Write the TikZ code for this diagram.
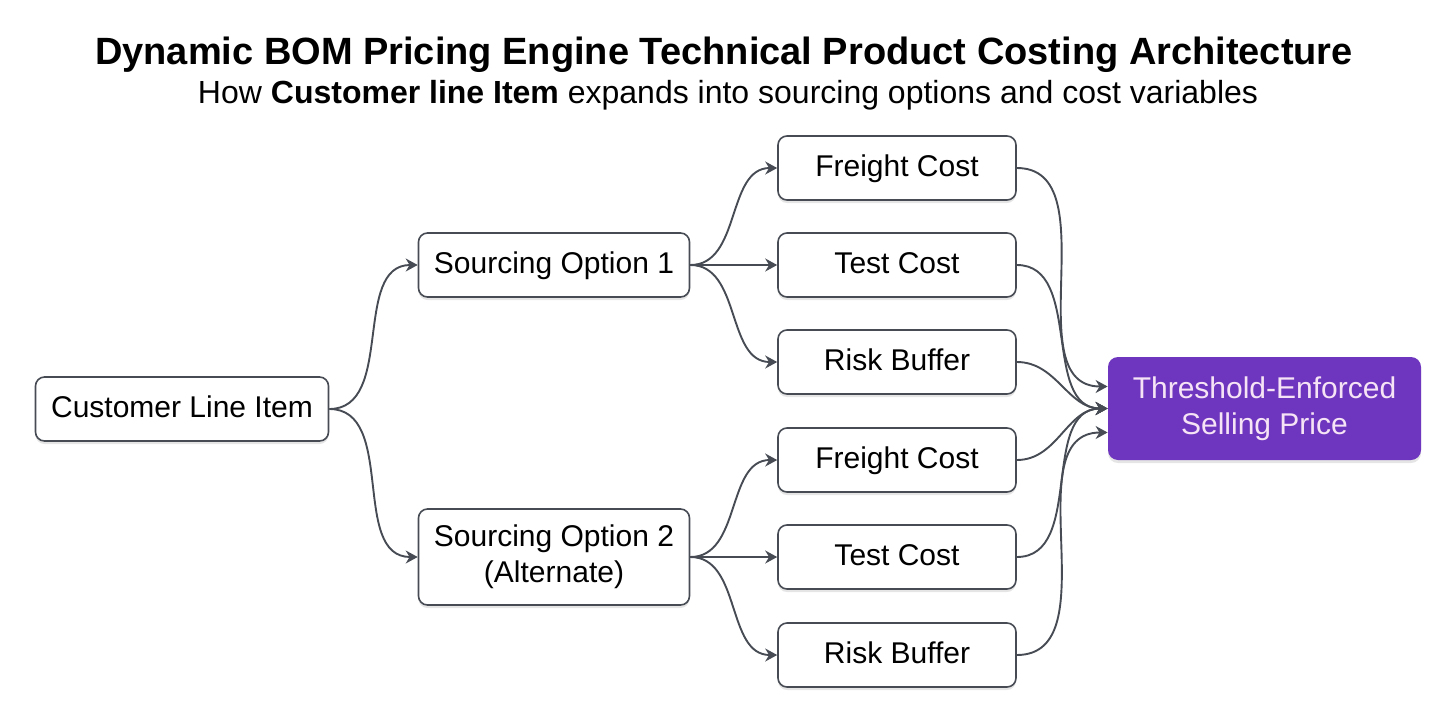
\documentclass[tikz,border=0pt]{standalone}
\usepackage{fontspec}
\setmainfont{Liberation Sans}
\usetikzlibrary{positioning, arrows.meta, shadows}

\definecolor{edgegray}{HTML}{474C54}
\definecolor{pricepurple}{HTML}{6E36BE}
\definecolor{pricetext}{HTML}{F6E4F6}

\begin{document}
\begin{tikzpicture}[
  x=0.5pt, y=0.5pt,
  font=\fontsize{15}{18}\selectfont,
  soft/.style={drop shadow={shadow xshift=0pt, shadow yshift=-1.5pt, opacity=0.10, fill=black}},
  item/.style={draw=edgegray, line width=0.8pt, rounded corners=4.5pt, fill=white,
    align=center, inner sep=2pt, minimum height=32pt, soft},
  oneline/.style={text height=0.88em, text depth=0pt},
  source/.style={item, minimum width=135.5pt},
  cost/.style={item, oneline, minimum width=119pt},
  price/.style={rounded corners=5pt, fill=pricepurple, text=pricetext, align=center,
    minimum width=156.5pt, minimum height=51.5pt, soft},
  arrow/.style={-{Stealth[length=6pt, width=6.5pt]}, line width=0.95pt, edgegray},
]
\useasboundingbox (0,0) rectangle (1456,720);

% Title and subtitle.
\node[font=\fontsize{19}{22}\selectfont\bfseries] (title) at (724, 665)
  {Dynamic BOM Pricing Engine Technical Product Costing Architecture};
\node[font=\fontsize{16}{19}\selectfont] (subtitle) at (728, 625)
  {How \textbf{Customer line Item} expands into sourcing options and cost variables};

% Line item and its two sourcing options.
\node[item, oneline, minimum width=146.5pt] (cli) at (182, 311) {Customer Line Item};
\node[source, oneline] (so1) at (554, 455) {Sourcing Option 1};
\node[source, minimum height=48pt] (so2) at (554, 163) {Sourcing Option 2\\(Alternate)};

% Cost variables per option.
\node[cost] (fc1) at (897, 552) {Freight Cost};
\node[cost] (tc1) at (897, 455) {Test Cost};
\node[cost] (rb1) at (897, 358) {Risk Buffer};
\node[cost] (fc2) at (897, 260) {Freight Cost};
\node[cost] (tc2) at (897, 163) {Test Cost};
\node[cost] (rb2) at (897, 65) {Risk Buffer};

% Final price.
\node[price] (thr) at (1264.5, 311.5) {Threshold-Enforced\\Selling Price};

% Line item to options.
\draw[arrow] (cli.east) to[out=0, in=180] (so1.west);
\draw[arrow] (cli.east) to[out=0, in=180] (so2.west);

% Options to costs.
\foreach \c in {fc1, tc1, rb1} {
  \draw[arrow] (so1.east) to[out=0, in=180] (\c.west);
}
\foreach \c in {fc2, tc2, rb2} {
  \draw[arrow] (so2.east) to[out=0, in=180] (\c.west);
}

% Costs into the selling price.
\draw[arrow] (fc1.east) to[out=0, in=180] ([yshift=11pt]thr.west);
\foreach \c in {tc1, rb1, fc2, tc2} {
  \draw[arrow] (\c.east) to[out=0, in=180] (thr.west);
}
\draw[arrow] (rb2.east) to[out=0, in=180] ([yshift=-12pt]thr.west);

\end{tikzpicture}
\end{document}
